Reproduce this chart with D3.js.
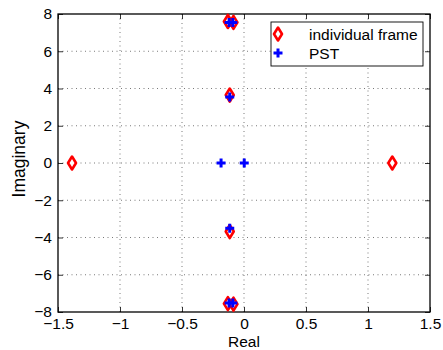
<!DOCTYPE html>
<html><head><meta charset="utf-8">
<script src="https://cdn.jsdelivr.net/npm/d3@7"></script>
<style>body{margin:0;background:#fff}svg{display:block}text{font-family:"Liberation Sans",Arial,sans-serif}</style>
</head><body><svg id="c" width="443" height="350"></svg>
<script>
const frameRe = [-1.387, 1.196, -0.13, -0.085, -0.115, -0.115, -0.13, -0.085];
const frameIm = [0, 0, 7.6, 7.55, 3.65, -3.68, -7.55, -7.58];
const pstRe = [-0.185, 0.002, -0.12, -0.09, -0.115, -0.115, -0.12, -0.09];
const pstIm = [0, 0, 7.55, 7.55, 3.55, -3.5, -7.52, -7.52];
const xTicks = [-1.5, -1, -0.5, 0, 0.5, 1, 1.5];
const yTicks = [-8, -6, -4, -2, 0, 2, 4, 6, 8];
const legendLabels = ["individual frame", "PST"];

const svg = d3.select("#c");
const L = 58, R = 430, T = 14, B = 312;
const FS = 15.5;
const x = d3.scaleLinear().domain([-1.5, 1.5]).range([L, R]);
const y = d3.scaleLinear().domain([-8, 8]).range([B, T]);
const fmt = d => (d < 0 ? "\u2212" + Math.abs(d) : "" + d);

// grid
const g = svg.append("g");
g.selectAll(".gx").data(xTicks.slice(1, -1)).enter().append("line")
  .attr("x1", d => x(d)).attr("x2", d => x(d)).attr("y1", T).attr("y2", B)
  .attr("stroke", "#000").attr("stroke-width", 0.7).attr("stroke-dasharray", "1,3.5").attr("opacity", 0.75);
g.selectAll(".gy").data(yTicks.slice(1, -1)).enter().append("line")
  .attr("y1", d => y(d)).attr("y2", d => y(d)).attr("x1", L).attr("x2", R)
  .attr("stroke", "#000").attr("stroke-width", 0.7).attr("stroke-dasharray", "1,3.5").attr("opacity", 0.75);

// axes
const tk = 5;
const ax = svg.append("g").attr("transform", `translate(0,${B})`)
  .call(d3.axisBottom(x).tickValues(xTicks).tickFormat(fmt).tickSizeInner(-tk).tickSizeOuter(0).tickPadding(6));
const axT = svg.append("g").attr("transform", `translate(0,${T})`)
  .call(d3.axisTop(x).tickValues(xTicks).tickFormat("").tickSizeInner(-tk).tickSizeOuter(0));
const ay = svg.append("g").attr("transform", `translate(${L},0)`)
  .call(d3.axisLeft(y).tickValues(yTicks).tickFormat(fmt).tickSizeInner(-tk).tickSizeOuter(0).tickPadding(6));
const ayR = svg.append("g").attr("transform", `translate(${R},0)`)
  .call(d3.axisRight(y).tickValues(yTicks).tickFormat("").tickSizeInner(-tk).tickSizeOuter(0));
[ax, axT, ay, ayR].forEach(a => {
  a.selectAll("path.domain").remove();
  a.selectAll("line").attr("stroke", "#000").attr("stroke-width", 0.8);
  a.selectAll("text").attr("font-size", FS).attr("fill", "#000").attr("font-family", '"Liberation Sans",Arial,sans-serif');
});
svg.append("rect").attr("x", L).attr("y", T).attr("width", R - L).attr("height", B - T)
  .attr("fill", "none").attr("stroke", "#000").attr("stroke-width", 1.3);

svg.append("text").attr("x", (L + R) / 2).attr("y", 347).attr("text-anchor", "middle").attr("font-size", FS).text("Real");
svg.append("text").attr("transform", `translate(25,159) rotate(-90)`).attr("text-anchor", "middle")
  .attr("font-size", 17.5).text("Imaginary");

// markers
const diamond = (s, cx, cy) => s.append("path").attr("d", `M${cx},${cy - 6.5}L${cx + 4},${cy}L${cx},${cy + 6.5}L${cx - 4},${cy}Z`)
  .attr("fill", "#fff").attr("stroke", "#f00").attr("stroke-width", 2.6).attr("stroke-linejoin", "round");
const plus = (s, cx, cy) => s.append("path").attr("d", `M${cx - 4.5},${cy}H${cx + 4.5}M${cx},${cy - 4.5}V${cy + 4.5}`)
  .attr("stroke", "#00f").attr("stroke-width", 3);

const mk = svg.append("g");
frameRe.forEach((r, i) => diamond(mk, x(r), y(frameIm[i])));
pstRe.forEach((r, i) => plus(mk, x(pstRe[i]), y(pstIm[i])));

// legend
const lg = svg.append("g");
lg.append("rect").attr("x", 271).attr("y", 22).attr("width", 152).attr("height", 44)
  .attr("fill", "#fff").attr("stroke", "#000").attr("stroke-width", 0.9);
diamond(lg, 278, 34);
plus(lg, 278, 53);
lg.append("text").attr("x", 309).attr("y", 40).attr("font-size", FS).text(legendLabels[0]);
lg.append("text").attr("x", 309).attr("y", 58.5).attr("font-size", FS).text(legendLabels[1]);
</script></body></html>
